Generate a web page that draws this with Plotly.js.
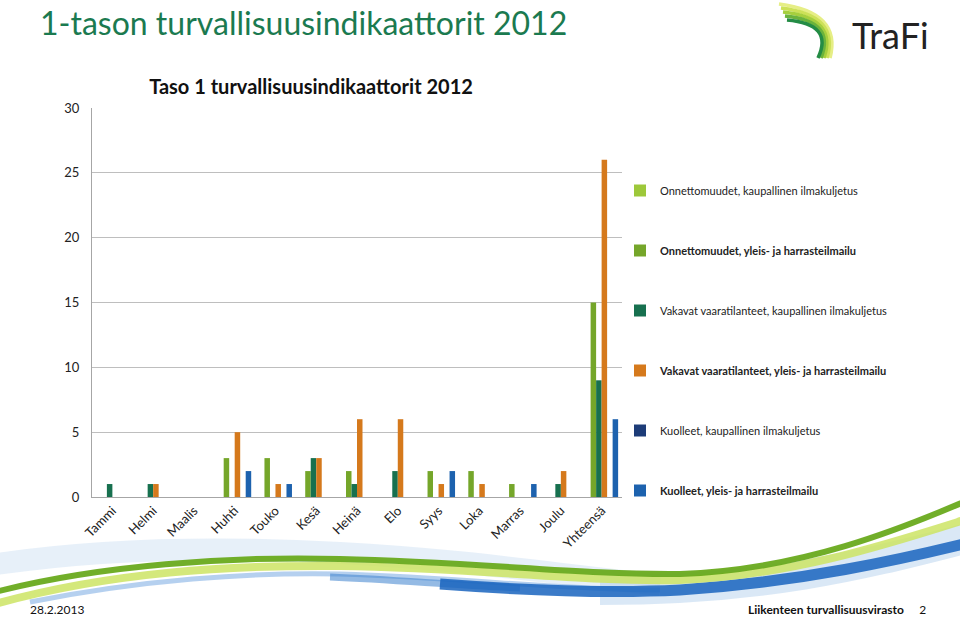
<!DOCTYPE html>
<html>
<head>
<meta charset="utf-8">
<script src="https://cdn.plot.ly/plotly-3.0.1.min.js"></script>
<style>html,body{margin:0;padding:0;background:#fff;}#chart{width:960px;height:617px;}</style>
</head>
<body>
<div id="chart"></div>
<script>
const categories = ['Tammi','Helmi','Maalis','Huhti','Touko','Kesä','Heinä','Elo','Syys','Loka','Marras','Joulu','Yhteensä'];
const seriesNames = [
  'Onnettomuudet, kaupallinen ilmakuljetus',
  '<b>Onnettomuudet, yleis- ja harrasteilmailu</b>',
  'Vakavat vaaratilanteet, kaupallinen ilmakuljetus',
  '<b>Vakavat vaaratilanteet, yleis- ja harrasteilmailu</b>',
  'Kuolleet, kaupallinen ilmakuljetus',
  '<b>Kuolleet, yleis- ja harrasteilmailu</b>'
];
const onnKaup   = [0,0,0,0,0,0,0,0,0,0,0,0,0];
const onnYleis  = [0,0,0,3,3,2,2,0,2,2,1,0,15];
const vakKaup   = [1,1,0,0,0,3,1,2,0,0,0,1,9];
const vakYleis  = [0,1,0,5,1,3,6,6,1,1,0,2,26];
const kuolKaup  = [0,0,0,0,0,0,0,0,0,0,0,0,0];
const kuolYleis = [0,0,0,2,1,0,0,0,2,0,1,0,6];
const yTicks = [0,5,10,15,20,25,30];

const seriesValues = [onnKaup, onnYleis, vakKaup, vakYleis, kuolKaup, kuolYleis];
const colors = ['#9DC83A','#75A62A','#17704F','#D5791C','#1D3C78','#1D62AE'];

const traces = seriesValues.map((v,i)=>({
  type:'bar', x:categories, y:v, name:seriesNames[i],
  marker:{color:colors[i]}, legendgroup:'g'+i, hoverinfo:'none'
}));

// pixel -> paper helpers (plot area 92..622 x 108..497)
const L=92, R=622, T=108, B=497;
const px = x => (x-L)/(R-L);
const py = y => (B-y)/(B-T);
function path(pts){
  return pts.map(p=>{
    const c=p[0]; const nums=p.slice(1); const out=[];
    for(let k=0;k<nums.length;k+=2){ out.push(px(nums[k]).toFixed(4)+','+py(nums[k+1]).toFixed(4)); }
    return c+' '+out.join(' ');
  }).join(' ');
}
const shapes = [];
function band(pts, color, width){
  shapes.push({type:'path',xref:'paper',yref:'paper',layer:'below',path:path(pts),line:{color:color,width:width}});
}
// background wave bands
band([['M',-10,565],['C',120,545,250,548,340,553],['C',470,560,560,575,660,585]], 'rgba(175,205,235,0.30)', 22);
band([['M',600,590],['C',780,590,880,560,980,535]], 'rgba(150,190,230,0.35)', 30);
band([['M',30,602],['C',140,580,250,572,340,574],['C',470,578,560,590,660,590]], 'rgba(120,170,225,0.55)', 5);
band([['M',330,577],['C',400,580,450,585,520,588]], 'rgba(60,130,205,0.55)', 7);
band([['M',440,584],['C',520,590,600,594,680,590],['C',800,582,900,560,980,540]], 'rgba(25,100,190,0.85)', 11);
band([['M',-5,604],['C',110,572,230,565,340,566],['C',480,568,580,582,680,580],['C',800,575,900,540,980,515]], 'rgba(205,228,100,0.85)', 8);
band([['M',-5,592],['C',100,565,230,556,340,559],['C',480,562,580,575,680,574],['C',800,570,900,530,980,495]], 'rgba(105,170,30,0.95)', 6);
// logo arcs
const logoCols=['#E6EE86','#CDE158','#A6CF3E','#6BB33C','#248C45'];
logoCols.forEach((c,i)=>{
  band([['M',779+i*2,4+i*4],['Q',842-i*2,12+i*3,830-i*3,58]], c, 3.5);
});

const annotations = [
  {xref:'paper',yref:'paper',x:px(38),y:py(22),xanchor:'left',yanchor:'middle',showarrow:false,
   text:'1-tason turvallisuusindikaattorit 2012',font:{family:'Lato, sans-serif',size:32,color:'#1B7A50'}},
  {xref:'paper',yref:'paper',x:px(850),y:py(35),xanchor:'left',yanchor:'middle',showarrow:false,
   text:'TraFi',font:{family:'Lato, sans-serif',size:36,color:'#222'}},
  {xref:'paper',yref:'paper',x:px(28),y:py(609),xanchor:'left',yanchor:'middle',showarrow:false,
   text:'28.2.2013',font:{family:'Lato, sans-serif',size:12,color:'#111'}},
  {xref:'paper',yref:'paper',x:px(928),y:py(609),xanchor:'right',yanchor:'middle',showarrow:false,
   text:'<b>Liikenteen turvallisuusvirasto</b>     2',font:{family:'Lato, sans-serif',size:12,color:'#111'}}
];

const layout = {
  width:960, height:617,
  margin:{l:L, r:960-R, t:T, b:617-B},
  paper_bgcolor:'#fff', plot_bgcolor:'rgba(0,0,0,0)',
  font:{family:'Lato, sans-serif', color:'#222'},
  title:{text:'<b>Taso 1 turvallisuusindikaattorit 2012</b>', xref:'container', yref:'container',
         x:311/960, xanchor:'center', y:1-87/617, yanchor:'middle', font:{size:20, color:'#111'}},
  barmode:'group', bargap:0.19, bargroupgap:0,
  xaxis:{type:'category', tickangle:-45, showgrid:false, showline:true, linecolor:'#A6A6A6', linewidth:1,
         ticks:'', tickfont:{size:13,color:'#222'}, fixedrange:true},
  yaxis:{range:[0,30], tickvals:yTicks, showgrid:true, gridcolor:'#BEBEBE', gridwidth:1,
         showline:true, linecolor:'#A6A6A6', linewidth:1, zeroline:false, ticks:'', ticklabelstandoff:9,
         tickfont:{size:13,color:'#222'}, fixedrange:true},
  legend:{x:px(620), y:py(176), xanchor:'left', yanchor:'top', traceorder:'grouped', tracegroupgap:41,
          font:{size:11,color:'#222'}, bgcolor:'rgba(0,0,0,0)'},
  shapes:shapes, annotations:annotations
};
Plotly.newPlot('chart', traces, layout, {displayModeBar:false, staticPlot:true});
</script>
</body>
</html>
